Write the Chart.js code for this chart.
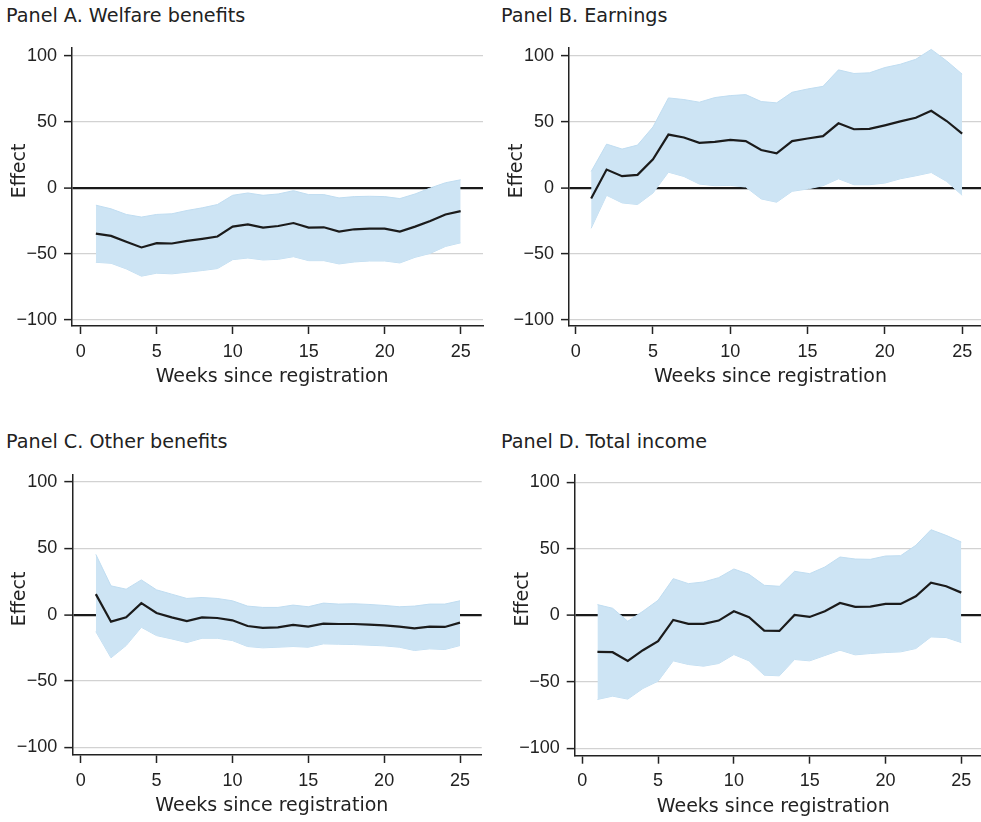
<!DOCTYPE html>
<html><head><meta charset="utf-8">
<script src="https://cdn.jsdelivr.net/npm/chart.js@4.4.1/dist/chart.umd.min.js"></script>
<style>
html,body{margin:0;padding:0;background:#fff;width:981px;height:822px;overflow:hidden;position:relative;}
canvas{position:absolute;}
.ttl{position:absolute;font-family:'DejaVu Sans';font-size:19.2px;line-height:19px;color:#222;white-space:nowrap;}
</style></head><body>
<div class="ttl" style="left:6px;top:6px">Panel A. Welfare benefits</div>
<div class="ttl" style="left:501px;top:6px">Panel B. Earnings</div>
<div class="ttl" style="left:6px;top:432px">Panel C. Other benefits</div>
<div class="ttl" style="left:501px;top:432px">Panel D. Total income</div>
<canvas id="cA"></canvas>
<canvas id="cB"></canvas>
<canvas id="cC"></canvas>
<canvas id="cD"></canvas>
<script>
const weeks = [1,2,3,4,5,6,7,8,9,10,11,12,13,14,15,16,17,18,19,20,21,22,23,24,25];
const yTickValues = [-100,-50,0,50,100];
const xTickValues = [0,5,10,15,20,25];
const yTitle = 'Effect';
const xTitle = 'Weeks since registration';

const welfareMean  = [-34.5,-36.25,-40.75,-45,-41.75,-42,-40,-38.5,-36.75,-29.25,-27.5,-30,-28.75,-26.5,-30,-29.75,-33,-31.25,-30.75,-30.75,-33,-29.25,-25,-20,-17.5];
const welfareUpper = [-13,-15.75,-20,-22,-20,-19.5,-17,-15,-12.5,-5.5,-3.75,-5.5,-4.5,-2,-5,-5,-7.5,-6.5,-6.25,-6.5,-8,-4.5,0,4,6.25];
const welfareLower = [-56.25,-57,-61.25,-66.75,-64.5,-65,-63.75,-62.5,-61,-54.25,-53,-54.5,-54,-52,-55,-55,-57.5,-56,-55.25,-55.25,-56.75,-52.5,-49.5,-44.25,-41.5];

const earnMean  = [-8,14,9,10,21.75,40.5,38.25,34.25,35,36.5,35.5,28.75,26.25,35.5,37.5,39.25,49,44.5,44.75,47.5,50.5,53.25,58.5,50.75,41.25];
const earnUpper = [12.5,33.25,29.5,32.5,46.25,68.25,67,65,68.5,70,70.75,65.5,64.5,72.5,75,77,89.5,86.75,87.25,91.25,93.75,97.5,105,96.25,86.25];
const earnLower = [-30.5,-5.5,-11.25,-12.5,-3.75,12,8.75,3,1.75,2,0.75,-8.25,-10.75,-2.5,-0.75,1.75,7,2.5,2.5,3.75,7,9.25,11.75,5,-5.5];

const otherMean  = [15.5,-5.25,-2,8.75,1.25,-2,-4.75,-2,-2.5,-4.25,-8.5,-10,-9.5,-7.75,-9,-6.75,-7,-7,-7.5,-8,-9,-10.25,-9,-9.25,-6];
const otherUpper = [45.5,21.75,19.25,26.25,18.75,15.5,12.25,13,12.25,10.5,6.5,5.5,5.5,7.25,6,8.75,8,8.25,7.75,7,6,6.5,8,8,10.5];
const otherLower = [-12.75,-32.5,-23.25,-9.5,-15.75,-18.25,-21,-17.75,-17.75,-19.5,-24,-25,-24.5,-24,-24.5,-22,-22.25,-22.5,-23,-23.5,-24.5,-27,-25.75,-26.25,-23.25];

const totalMean  = [-27.5,-27.75,-34.25,-26.25,-19.5,-3.5,-6.5,-6.5,-4,3,-1.5,-11.5,-11.75,0.25,-1.25,3,9.25,6.25,6.5,8.5,8.5,14.25,24.5,21.75,17];
const totalUpper = [8,5.25,-4.5,3,11.25,27.5,23.75,25,28.25,34.75,30.75,22.5,21.75,33,31.25,36.25,43.75,42.25,42,44.5,44.75,52.5,64.25,60,55];
const totalLower = [-63.25,-60.75,-63,-55,-49.5,-34.25,-37,-38.25,-36.25,-29.5,-34.25,-45,-45.5,-33.25,-34.25,-30.25,-26.25,-29.75,-28.75,-28,-27.5,-25,-16.25,-16.75,-20.5];

function fmt(v){ return v < 0 ? '\u2212' + Math.abs(v) : String(v); }

const INK = '#222';
const BAND = 'rgb(205,228,244)';
const BAND_EDGE = 'rgb(192,221,241)';
const TITLE_FONT_CSS = '19px "DejaVu Sans"';
const TICK_FONT = {family:'Liberation Sans', size:18};

const axisTitles = {
  id: 'axisTitles',
  afterDraw(chart) {
    const {ctx, chartArea} = chart;
    const xs = chart.scales.x;
    ctx.save();
    ctx.fillStyle = INK;
    ctx.font = TITLE_FONT_CSS;
    ctx.textAlign = 'center';
    ctx.textBaseline = 'middle';
    const xMid = (xs.getPixelForValue(xTickValues[0]) + xs.getPixelForValue(xTickValues[xTickValues.length - 1])) / 2 + 1.5;
    ctx.fillText(xTitle, xMid, chartArea.bottom + 50.9);
    ctx.translate(chartArea.left - 52, (chartArea.top + chartArea.bottom) / 2 - 16);
    ctx.rotate(-Math.PI / 2);
    ctx.fillText(yTitle, 0, 0);
    ctx.restore();
  }
};

function makePanel(id, box, area, xRange, yRange, mean, upper, lower){
  const cv = document.getElementById(id);
  cv.width = box.w; cv.height = box.h;
  cv.style.left = box.x + 'px'; cv.style.top = box.y + 'px';
  cv.style.width = box.w + 'px'; cv.style.height = box.h + 'px';
  const pts = arr => weeks.map((w, i) => ({x: w, y: arr[i]}));
  new Chart(cv, {
    type: 'line',
    data: {datasets: [
      {data: pts(mean), borderColor: '#1b1b1b', borderWidth: 2.2, pointRadius: 0, tension: 0, fill: false},
      {data: pts(upper), borderColor: BAND_EDGE, borderWidth: 1, pointRadius: 0, tension: 0, fill: '+1', backgroundColor: BAND},
      {data: pts(lower), borderColor: BAND_EDGE, borderWidth: 1, pointRadius: 0, tension: 0, fill: false}
    ]},
    plugins: [axisTitles],
    options: {
      responsive: false, animation: false, devicePixelRatio: 1,
      layout: {padding: {top: area.top - box.y, right: (box.x + box.w) - area.right, left: 0, bottom: 0}},
      plugins: {legend: {display: false}, tooltip: {enabled: false}},
      scales: {
        x: {
          type: 'linear', min: xRange[0], max: xRange[1],
          afterBuildTicks: s => { s.ticks = xTickValues.map(v => ({value: v})); },
          afterFit: s => { s.height = (box.y + box.h) - area.bottom; },
          ticks: {autoSkip: false, maxRotation: 0, padding: 7, color: INK, font: TICK_FONT, callback: v => fmt(v)},
          grid: {drawOnChartArea: false, drawTicks: true, tickLength: 8, tickColor: INK, tickWidth: 1.5},
          border: {display: true, color: INK, width: 1.5},
          title: {display: false}
        },
        y: {
          type: 'linear', min: yRange[0], max: yRange[1],
          afterBuildTicks: s => { s.ticks = yTickValues.map(v => ({value: v})); },
          afterFit: s => { s.width = area.left - box.x; },
          ticks: {padding: 7, color: INK, font: TICK_FONT, callback: v => fmt(v)},
          grid: {
            drawOnChartArea: true, drawTicks: true, tickLength: 8, tickColor: INK, tickWidth: 1.5,
            color: c => (c.tick && c.tick.value === 0) ? '#1a1a1a' : '#d2d2d2',
            lineWidth: c => (c.tick && c.tick.value === 0) ? 2.2 : 1.2
          },
          border: {display: true, color: INK, width: 1.5},
          title: {display: false}
        }
      }
    }
  });
}

makePanel('cA', {x:0, y:30, w:490, h:365}, {left:72, right:483, top:45, bottom:326}, [-0.57, 26.47], [-104.5, 106.2], welfareMean, welfareUpper, welfareLower);
makePanel('cB', {x:497, y:30, w:484, h:365}, {left:569, right:981, top:45, bottom:326}, [-0.433, 26.22], [-104.5, 106.2], earnMean, earnUpper, earnLower);
makePanel('cC', {x:0, y:457, w:490, h:365}, {left:72.3, right:481.7, top:473.3, bottom:755}, [-0.55, 26.43], [-105.8, 105.5], otherMean, otherUpper, otherLower);
makePanel('cD', {x:497, y:457, w:484, h:365}, {left:574.7, right:981, top:474.4, bottom:755.7}, [-0.5, 26.3], [-105.5, 105.5], totalMean, totalUpper, totalLower);
</script>
</body></html>
